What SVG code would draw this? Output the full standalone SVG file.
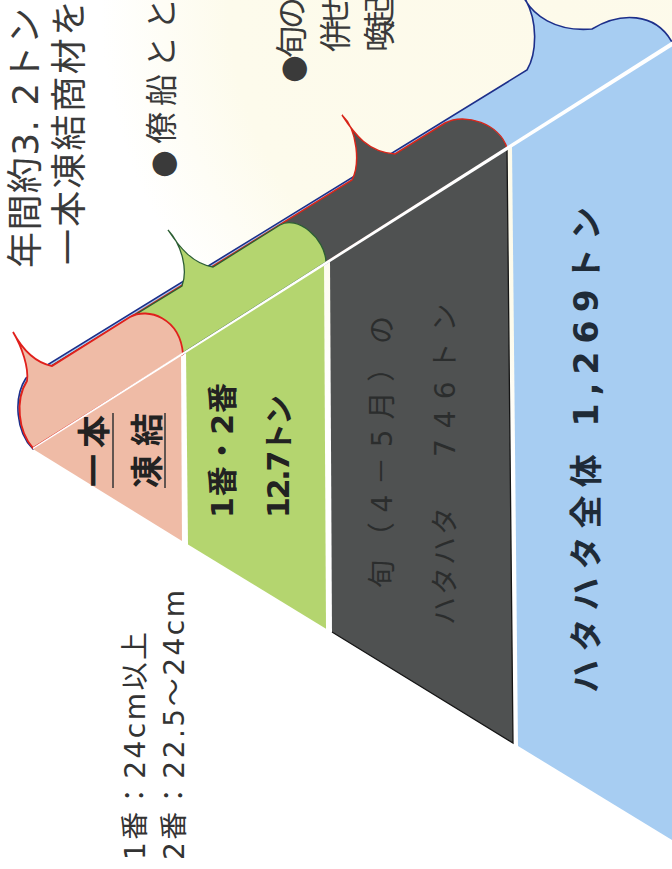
<svg xmlns="http://www.w3.org/2000/svg" width="672" height="869" viewBox="0 0 672 869">
<defs>
<radialGradient id="creamFade" cx="560" cy="0" r="460" gradientUnits="userSpaceOnUse">
<stop offset="0" stop-color="#fdfaea"/>
<stop offset="0.72" stop-color="#fdfbec"/>
<stop offset="1" stop-color="#ffffff"/>
</radialGradient>
</defs>
<style>
text{font-family:"DejaVu Sans","Noto Sans CJK JP",sans-serif;}
.note{font-size:36px;fill:#3a3a3a}
.note2{font-size:32px;fill:#3a3a3a}
.lbl{font-size:28px;fill:#333}
.b{font-weight:700}
.pink{fill:#efbba6}
.green{fill:#b4d56f}
.dark{fill:#4f5151}
.blue{fill:#a7cdf2}
.ol-pink{stroke:#e0201c;stroke-width:1.8}
.ol-green{stroke:#2c5e34;stroke-width:1.3}
.ol-dark{stroke:#d8261a;stroke-width:1.5}
.ol-blue{stroke:#1d2f8a;stroke-width:1.6}
</style>
<rect width="672" height="869" fill="#ffffff"/>
<rect width="672" height="460" fill="url(#creamFade)"/>

<g id="notes">
<text class="note" transform="translate(25,268) rotate(-90)" dominant-baseline="central" textLength="260">年間約3. 2トン</text>
<text class="note" transform="translate(69,265) rotate(-90)" dominant-baseline="central" textLength="265">一本凍結商材を</text>
<text class="note2" transform="translate(162,178) rotate(-90)" dominant-baseline="central" textLength="180">●僚船とと</text>
<text class="note2" transform="translate(292,83) rotate(-90)" dominant-baseline="central" textLength="86">●旬の</text>
<text class="note2" transform="translate(336,52) rotate(-90)" dominant-baseline="central" textLength="56">併せ</text>
<text class="note2" transform="translate(380,52) rotate(-90)" dominant-baseline="central" textLength="56">喚起</text>
</g>

<g id="size-legend">
<text class="lbl" transform="translate(135,860) rotate(-90)" dominant-baseline="central" textLength="228">1番：24cm以上</text>
<text class="lbl" transform="translate(174,860) rotate(-90)" dominant-baseline="central" textLength="270">2番：22.5～24cm</text>
</g>

<g id="sec-total">
<path class="blue ol-blue" d="M672,44 L33,449 C16,432 13,398 26,378 L527,70 C536,55 540,20 522,-6 C532,16 556,32 592,29 C620,12 655,12 672,42 Z"/>
<polygon class="blue" points="512,145 672,43.5 672,840 518,746"/>
<text class="b" style="font-size:33px;fill:#1f2b38" transform="translate(586,693) rotate(-90)" dominant-baseline="central" textLength="486">ハタハタ全体 1,269トン</text>
</g>

<g id="sec-season">
<path class="dark ol-dark" d="M507,148 L33,448 C18,430 15,400 27,381 L352,180 C360,165 358,130 342,115 C355,135 368,152 395,154 L445,123 C465,112 500,124 507,148 Z"/>
<polygon class="dark" points="330,260 507,148 513,743 332,632"/>
<polyline points="507,148 513,743 332,632" fill="none" stroke="#151515" stroke-width="1.3"/>
<text style="font-size:28px;fill:#2b2d2d" transform="translate(382,588) rotate(-90)" dominant-baseline="central" textLength="272">旬（4－5月）の</text>
<text style="font-size:28px;fill:#2b2d2d" transform="translate(445,625) rotate(-90)" dominant-baseline="central"><tspan letter-spacing="2">ハタハタ</tspan><tspan x="168" letter-spacing="11">746トン</tspan></text>
</g>

<g id="sec-grade">
<path class="green ol-green" d="M326,262 L33,448 C18,430 15,400 27,381 L182,286 C188,270 182,245 168,230 C180,248 193,264 213,267 L280,225 C297,215 325,238 326,262 Z"/>
<polygon class="green" points="186,351.2 324,263.8 326,628.7 188,544.6"/>
<text class="b" style="font-size:30px;fill:#222" transform="translate(222,518) rotate(-90)" dominant-baseline="central" textLength="135">1番・2番</text>
<text class="b" style="font-size:30px;fill:#222" transform="translate(278,518) rotate(-90)" dominant-baseline="central" textLength="123">12.7トン</text>
</g>

<g id="sec-ippon">
<path class="pink ol-pink" d="M183,354 L33,448 C18,431 15,400 27,381 C29,368 22,347 13,332 C20,345 32,362 52,366 L130,317 C148,307 180,318 183,354 Z"/>
<polygon class="pink" points="33,449 181,354.5 182,541"/>
<text class="b" style="font-size:33px;fill:#222" transform="translate(94,487) rotate(-90)" dominant-baseline="central" textLength="72">一本</text>
<text class="b" style="font-size:33px;fill:#222" transform="translate(147,488) rotate(-90)" dominant-baseline="central" textLength="75">凍結</text>
<line x1="113" y1="413" x2="113" y2="488" stroke="#333" stroke-width="1.5"/>
<line x1="165" y1="413" x2="165" y2="488" stroke="#333" stroke-width="1.5"/>
</g>

<g id="connectors">
<polygon points="33,447.6 672,41.5 672,46.5 33,449.2" fill="#ffffff"/>
</g>
</svg>
